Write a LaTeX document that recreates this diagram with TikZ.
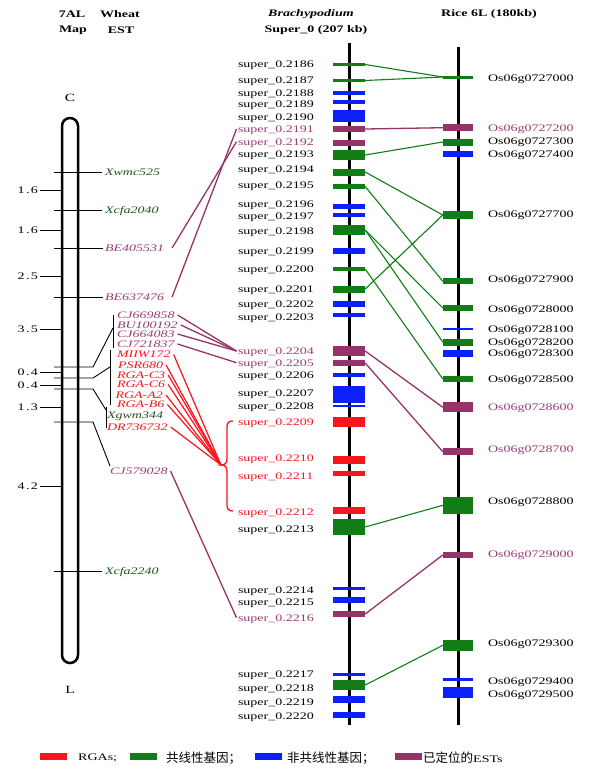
\documentclass[tikz,border=0pt]{standalone}
\usepackage{fontspec}
\setmainfont{Liberation Serif}[FakeStretch=1.4]
\newfontfamily\numfont{Liberation Serif}[FakeStretch=1.4,LetterSpace=14]
\newfontfamily\cjk{Noto Sans CJK SC}
\definecolor{cG}{RGB}{18,125,22}
\definecolor{cB}{RGB}{12,32,250}
\definecolor{cP}{RGB}{150,52,105}
\definecolor{cPt}{RGB}{155,60,115}
\definecolor{cR}{RGB}{250,20,30}
\definecolor{cDG}{RGB}{30,85,30}
\begin{document}
\begin{tikzpicture}[x=1pt,y=-1pt,
  lab/.style={anchor=west,inner sep=0pt,outer xsep=1.5pt,font=\fontsize{10}{12}\selectfont,text height=6.8pt,text depth=0pt},
  est/.style={lab,outer xsep=3pt,font=\fontsize{10}{12}\selectfont\itshape},
  bbox/.style={rectangle,inner sep=0pt,minimum width=32pt},
  rbox/.style={rectangle,inner sep=0pt,minimum width=30pt},
  gline/.style={cG,line width=1.1pt},
  pline/.style={cP,line width=1.3pt},
  rline/.style={cR,line width=1.2pt},
  tick/.style={black,line width=0.9pt},
  hdr/.style={inner sep=0pt,font=\fontsize{10}{12}\selectfont\bfseries},
  lgbox/.style={rectangle,inner sep=0pt,minimum width=27pt,minimum height=7pt},
  lgtext/.style={anchor=west,inner sep=0pt,font=\fontsize{10}{12}\selectfont}
]
\useasboundingbox (0,0) rectangle (600,774);
\fill[white] (0,0) rectangle (600,774);

% headers
\node[hdr] (h7al) at (72,14) {7AL};
\node[hdr] (hwheat) at (120,14) {Wheat};
\node[hdr] (hmap) at (73,30) {Map};
\node[hdr] (hest) at (121,30) {EST};
\node[hdr,font=\fontsize{10}{12}\selectfont\bfseries\itshape] (hbrachy) at (311,14) {Brachypodium};
\node[hdr] (hsuper) at (316,30) {Super\_0 (207 kb)};
\node[hdr] (hrice) at (489,14) {Rice 6L (180kb)};

% wheat chromosome
\node[draw,line width=2.5pt,rounded corners=7.9pt,minimum width=16pt,minimum height=545pt,inner sep=0pt] (chr) at (70,390.5) {};
\node[inner sep=0pt,font=\fontsize{11}{13}\selectfont] (cC) at (70,98) {C};
\node[inner sep=0pt,font=\fontsize{11}{13}\selectfont] (cL) at (70,690) {L};

% distance ticks
\foreach \y/\t in {190/1.6,230/1.6,276/2.5,329/3.5,372/0.4,385/0.4,407/1.3,486/4.2} {
  \node[anchor=east,inner sep=0pt,outer xsep=2pt,font=\numfont\fontsize{10}{12}\selectfont,text height=6.8pt,text depth=0pt] (d\y) at (40,\y) {\t};
  \draw[tick] (d\y.east) -- (62,\y);
}

% wheat markers
\node[est,text=cDG] (Xwmc525) at (102,172) {Xwmc525};
\node[est,text=cDG] (Xcfa2040) at (102,210) {Xcfa2040};
\node[est,text=cPt,outer xsep=8pt] (BE405531) at (97,248) {BE405531};
\node[est,text=cPt,outer xsep=8pt] (BE637476) at (97,297) {BE637476};
\node[est,text=cPt] (CJ669858) at (114,315) {CJ669858};
\node[est,text=cPt] (BU100192) at (114,325) {BU100192};
\node[est,text=cPt] (CJ664083) at (114,334) {CJ664083};
\node[est,text=cPt] (CJ721837) at (114,344) {CJ721837};
\node[est,text=cR] (MIIW172) at (114,354.5) {MIIW172};
\node[est,text=cR] (PSR680) at (115,365) {PSR680};
\node[est,text=cR] (RGAC3) at (114,375) {RGA-C3};
\node[est,text=cR] (RGAC6) at (114,384.5) {RGA-C6};
\node[est,text=cR] (RGAA2) at (112.5,395) {RGA-A2};
\node[est,text=cR] (RGAB6) at (114,404.5) {RGA-B6};
\node[est,text=cDG] (Xgwm344) at (104,415.5) {Xgwm344};
\node[est,text=cR] (DR736732) at (104,427) {DR736732};
\node[est,text=cPt] (CJ579028) at (107,471) {CJ579028};
\node[est,text=cDG] (Xcfa2240) at (102,571) {Xcfa2240};

\foreach \y/\m in {172/Xwmc525,210/Xcfa2040,571/Xcfa2240} {
  \draw[tick] (54,\y) -- (\m.west);
}
\draw[tick] (54,248) -- (103,248);
\draw[tick] (54,297) -- (103,297);
% grouped markers
\draw[tick] (54,367) -- (93,367) -- (113,328);
\draw[tick] (113,315) -- (113,348);
\draw[tick] (54,378) -- (93,378) -- (110,367);
\draw[tick] (110,350) -- (110,405);
\draw[tick] (54,389) -- (93,389) -- (106,410);
\draw[tick] (106,407) -- (106,428);
\draw[tick] (54,422) -- (93,422) -- (110,466);

% chromosome axes
\coordinate (btop) at (349,43);
\coordinate (bbot) at (349,725);
\coordinate (rtop) at (458,47);
\coordinate (rbot) at (458,725);
\draw[line width=3pt] (btop) -- (bbot);
\draw[line width=3pt] (rtop) -- (rbot);

% Brachypodium genes
\foreach \n/\by/\bh/\bc/\ly/\lc in {
  2186/64.5/3/cG/64/black, 2187/80.5/3/cG/80/black, 2188/93.3/4/cB/93/black,
  2189/102/4/cB/104.5/black, 2190/116/12/cB/116.7/black, 2191/129/6/cP/129/cPt,
  2192/143/6/cP/141.7/cPt, 2193/155/10/cG/154/black, 2194/172/7/cG/169/black,
  2195/186.5/5/cG/185/black, 2196/206.5/5/cB/204/black, 2197/215/3.5/cB/215.7/black,
  2198/230/10/cG/231/black, 2199/251/6/cB/250.7/black, 2200/269/3.5/cG/269/black,
  2201/289/7/cG/289/black, 2202/304/6/cB/304/black, 2203/315/4/cB/316.7/black,
  2204/351/10/cP/351/cPt, 2205/363/6/cP/362.7/cPt, 2206/374.7/4/cB/374.7/black,
  2207/393/15/cB/393/black, 2208/402/1.8/cB/405.7/black,
  2209/422/9.5/cR/422/cR, 2210/460/8/cR/458/cR, 2211/473.5/5/cR/476/cR,
  2212/510/7/cR/511.7/cR, 2213/527/16.7/cG/529.3/black, 2214/588.7/3/cB/590/black,
  2215/599.5/6/cB/602.3/black, 2216/614/6/cP/617.7/cPt, 2217/674/3/cB/674/black,
  2218/685/10/cG/688.3/black, 2219/699.5/7.5/cB/702.3/black, 2220/715/6.5/cB/716/black} {
  \node[bbox,fill=\bc,minimum height=\bh pt] (b\n) at (349,\by) {};
  \node[lab,text=\lc] (s\n) at (236.5,\ly) {super\_0.\n};
}
\node[bbox,fill=cB,minimum height=1.8pt] (b2208b) at (349,406) {};

% Rice genes
\foreach \n/\by/\bh/\bc/\ly/\lc in {
  27000/77/3/cG/77.7/black, 27200/127.7/6.7/cP/127.7/cPt, 27300/142/7/cG/141/black,
  27400/154/6.7/cB/154.3/black, 27700/215/8/cG/214/black, 27900/281.3/6/cG/279.3/black,
  28000/308/6/cG/309/black, 28100/329.3/2.2/cB/329.3/black, 28200/342/7/cG/342.3/black,
  28300/353.7/7/cB/353.3/black, 28500/379/5.7/cG/379/black, 28600/407.3/10/cP/407.3/cPt,
  28700/451.7/6.7/cP/449.3/cPt, 28800/505.3/17.3/cG/501/black, 29000/555/6.7/cP/554/cPt,
  29300/645.3/10.7/cG/643.3/black, 29400/679.3/3.3/cB/680.7/black, 29500/692.5/11.7/cB/694.3/black} {
  \node[rbox,fill=\bc,minimum height=\bh pt] (r\n) at (458,\by) {};
  \node[lab,text=\lc] (o\n) at (486.5,\ly) {Os06g07\n};
}

% synteny connectors
\draw[gline] (b2186.east) -- (r27000.west);
\draw[gline] (b2187.east) -- (r27000.west);
\draw[gline] (b2193.east) -- (r27300.west);
\draw[gline] (b2194.east) -- (r27700.west);
\draw[gline] (b2195.east) -- (r27900.west);
\draw[gline] (b2198.east) -- (r28000.west);
\draw[gline] (b2198.east) -- (r28200.west);
\draw[gline] (b2200.east) -- (r28500.west);
\draw[gline] (b2201.east) -- (r27700.west);
\draw[gline] (b2213.east) -- (r28800.west);
\draw[gline] (b2218.east) -- (r29300.west);
\draw[pline] (b2191.east) -- (r27200.west);
\draw[pline] (b2204.east) -- (r28600.west);
\draw[pline] (b2205.east) -- (r28700.west);
\draw[pline] (b2216.east) -- (r29000.west);

% wheat EST to Brachypodium
\draw[pline] (BE405531.east) -- (s2192.west);
\draw[pline] (BE637476.east) -- (s2191.west);
\draw[pline] (CJ669858.east) -- (s2204.west);
\draw[pline] (BU100192.east) -- (s2204.west);
\draw[pline] (CJ664083.east) -- (s2204.west);
\draw[pline] (CJ721837.east) -- (s2205.west);
\draw[pline] (CJ579028.east) -- (s2216.west);

% RGA brace
\coordinate (bracetip) at (221,465);
\draw[cR,line width=1.3pt] (233,421) .. controls (228.5,421) and (227,423) .. (227,427) -- (227,459)
  .. controls (227,463) and (225,465) .. (bracetip)
  .. controls (225,465) and (227,467) .. (227,471) -- (227,505)
  .. controls (227,509) and (228.5,511) .. (233,511);
\foreach \m in {MIIW172,PSR680,RGAC3,RGAC6,RGAA2,RGAB6,DR736732} {
  \draw[rline] (\m.east) -- (bracetip);
}

% legend
\node[lgbox,fill=cR] (lg1) at (53.5,756.5) {};
\node[lgtext] (lt1) at (78,758) {RGAs;};
\node[lgbox,fill=cG] (lg2) at (143,756.5) {};
\node[lgtext,font=\cjk\fontsize{12.5}{14}\selectfont] (lt2) at (166,758) {共线性基因；};
\node[lgbox,fill=cB] (lg3) at (268.5,756.5) {};
\node[lgtext,font=\cjk\fontsize{12.5}{14}\selectfont] (lt3) at (287,758) {非共线性基因；};
\node[lgbox,fill=cP] (lg4) at (408,756.5) {};
\node[lgtext] (lt4) at (423,758) {{\cjk\fontsize{12.5}{14}\selectfont 已定位的}ESTs};
\end{tikzpicture}
\end{document}
